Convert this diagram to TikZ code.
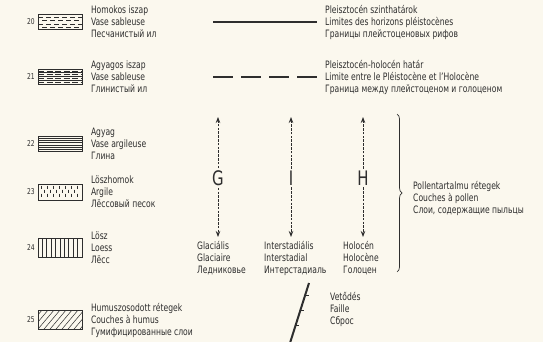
\documentclass[tikz,border=0pt]{standalone}
\usepackage{fontspec}
\setmainfont{DejaVu Sans Condensed}[FakeStretch=0.83]
\usetikzlibrary{arrows.meta,positioning,calc,decorations.pathreplacing}
\definecolor{paper}{HTML}{FBF8EE}
\definecolor{ink}{HTML}{2E2E2E}

\begin{document}
\begin{tikzpicture}[
    x=1pt, y=-1pt,
    >=Stealth,
    txt/.style={align=left, inner sep=0pt, font=\fontsize{10.2}{12}\selectfont, text=ink},
    num/.style={inner sep=0pt, font=\fontsize{8}{8}\selectfont, text=ink},
    swatch/.style={draw=ink, thick, minimum width=44pt, minimum height=15pt, inner sep=0pt, anchor=west},
    hatch/.style={draw=ink, line width=0.5pt},
    horizon/.style={draw=ink, line width=2.3pt},
    shaft/.style={draw=ink, line width=0.8pt, dash pattern=on 2.6pt off 1.2pt, arrows={-Stealth[length=6pt,width=4.5pt]}},
    phase/.style={font=\fontsize{20}{20}\selectfont, text=ink, inner sep=2pt, fill=paper}
]
\useasboundingbox[fill=paper] (0,0) rectangle (543,342);

% Sediment swatches
\node[swatch] (s20) at (38,22) {};
\node[swatch] (s21) at (38,77) {};
\node[swatch] (s22) at (38,144) {};
\node[swatch, minimum height=16pt] (s23) at (38,192) {};
\node[swatch, minimum height=19pt] (s24) at (38,248) {};
\node[swatch, minimum height=19pt] (s25) at (38,320) {};

% Fill patterns
\begin{scope}[shift={(s20.north west)}]
  \clip (0,0) rectangle (44,15);
  \foreach \r/\o in {3/0,6.5/4,10/0,13/4}
    \draw[hatch, dash pattern=on 5pt off 3pt, dash phase=\o pt] (0,\r) -- (44,\r);
\end{scope}
\begin{scope}[shift={(s21.north west)}]
  \clip (0,0) rectangle (44,15);
  \foreach \r in {3.5,7.5,11.5}
    \draw[hatch] (0,\r) -- (44,\r);
  \foreach \r in {1.8,5.5,9.5,13.3}
    \draw[hatch, dash pattern=on 6pt off 2.5pt] (0,\r) -- (44,\r);
\end{scope}
\begin{scope}[shift={(s22.north west)}]
  \foreach \r in {2.2,4.4,...,13.2}
    \draw[hatch] (0,\r) -- (44,\r);
\end{scope}
\begin{scope}[shift={(s23.north west)}]
  \foreach \c in {3,9,...,43}
    \draw[hatch] (\c,2) -- (\c,5) (\c,10) -- (\c,13);
  \foreach \c in {6,12,...,40}
    \draw[hatch] (\c,6) -- (\c,9);
\end{scope}
\begin{scope}[shift={(s24.north west)}]
  \foreach \c in {4.4,8.8,...,40}
    \draw[hatch, line width=0.7pt] (\c,0) -- (\c,19);
\end{scope}
\begin{scope}[shift={(s25.north west)}]
  \clip (0,0) rectangle (44,19);
  \foreach \c in {-12,-6,...,48}
    \draw[hatch] (\c,19) -- (\c+16,0);
\end{scope}

% Numbers
\foreach \n in {20,...,25}
  \node[num, left=3pt of s\n] (n\n) {\n};

% Sediment texts
\node[txt, right=8pt of s20] (t20) {Homokos iszap\\Vase sableuse\\Песчанистый ил};
\node[txt, right=8pt of s21] (t21) {Agyagos iszap\\Vase sableuse\\Глинистый ил};
\node[txt, right=8pt of s22] (t22) {Agyag\\Vase argileuse\\Глина};
\node[txt, right=8pt of s23] (t23) {Löszhomok\\Argile\\Лёссовый песок};
\node[txt, right=8pt of s24] (t24) {Lösz\\Loess\\Лёсс};
\node[txt, right=8pt of s25] (t25) {Humuszosodott rétegek\\Couches à humus\\Гумифицированные слои};

% Horizon lines
\coordinate (h1a) at (213,22);
\coordinate (h1b) at (317,22);
\coordinate (h2a) at (213,77);
\coordinate (h2b) at (317,77);
\draw[horizon] (h1a) -- (h1b);
\draw[horizon, dash pattern=on 20pt off 8pt] (h2a) -- (h2b);
\node[txt, anchor=west] (th1) at (325,22) {Pleisztocén szinthatárok\\Limites des horizons pléistocènes\\Границы плейстоценовых рифов};
\node[txt, anchor=west] (th2) at (325,77) {Pleisztocén-holocén határ\\Limite entre le Pléistocène et l'Holocène\\Граница между плейстоценом и голоценом};

% Pollen phases
\foreach \p/\x in {G/218,I/291,H/363} {
  \coordinate (top\p) at (\x,117);
  \coordinate (bot\p) at (\x,237);
  \node[phase] (ph\p) at (\x,178) {\p};
  \draw[shaft] (ph\p) -- (top\p);
  \draw[shaft] (ph\p) -- (bot\p);
}
\node[txt, anchor=north west] (tG) at (197,241) {Glaciális\\Glaciaire\\Ледниковье};
\node[txt, anchor=north west] (tI) at (264,241) {Interstadiális\\Interstadial\\Интерстадиаль};
\node[txt, anchor=north west] (tH) at (343,241) {Holocén\\Holocène\\Голоцен};

% Brace
\coordinate (brA) at (397,114);
\coordinate (brB) at (397,272);
\draw[draw=ink, line width=0.7pt, decorate, decoration={brace, amplitude=5pt}] (brA) -- (brB);
\node[txt, anchor=west] (tpol) at (413,198) {Pollentartalmu rétegek\\Couches à pollen\\Слои, содержащие пыльцы};

% Fault
\coordinate (fA) at (290,343);
\coordinate (fB) at (309,283);
\draw[draw=ink, line width=2pt] (fA) -- (fB);
\foreach \t in {0.3,0.55,0.8}
  \draw[draw=ink, line width=1pt] ($(fA)!\t!(fB)$) -- ++(3.5,0);
\node[txt, anchor=west] (tf) at (330,309) {Vetődés\\Faille\\Сброс};

\end{tikzpicture}
\end{document}
